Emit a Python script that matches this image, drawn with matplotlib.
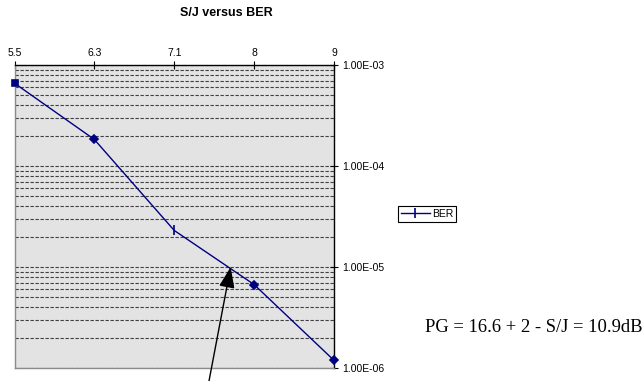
import math
import matplotlib.pyplot as plt
from matplotlib.ticker import FuncFormatter, LogLocator, NullFormatter
from matplotlib.lines import Line2D

# S/J values (category axis) and measured BER
sj_labels = ['5.5', '6.3', '7.1', '8', '9']
ber = [6.6e-4, 1.83e-4, 2.3e-5, 6.7e-6, 1.19e-6]
marker_styles = ['s', 'D', '|', 'D', 'D']

navy = '#000080'

fig = plt.figure(figsize=(6.43, 3.81), dpi=100)
ax = fig.add_axes([14.5 / 643, 1 - 368 / 381, (334 - 14.5) / 643, (368 - 65) / 381])
ax.set_facecolor('#e3e3e3')

x = list(range(len(sj_labels)))
ax.plot(x, ber, color=navy, lw=1.0, zorder=3)
for xi, yi, m in zip(x, ber, marker_styles):
    size = 7 if m == '|' else (4 if m == 's' else 4.5)
    ax.plot([xi], [yi], marker=m, color=navy, ms=size, mew=1.2, clip_on=False, zorder=4)

ax.set_yscale('log')
ax.set_ylim(1e-6, 1e-3)
ax.set_xlim(0, len(sj_labels) - 1)

ax.xaxis.tick_top()
ax.set_xticks(x)
ax.set_xticklabels(sj_labels)
ax.yaxis.tick_right()
ax.yaxis.set_major_locator(LogLocator(base=10, numticks=10))
ax.yaxis.set_minor_locator(LogLocator(base=10, subs=range(2, 10), numticks=10))
ax.yaxis.set_minor_formatter(NullFormatter())
ax.yaxis.set_major_formatter(FuncFormatter(lambda v, p: '1.00E-%02d' % -round(math.log10(v))))

ax.tick_params(axis='x', which='major', direction='inout', length=6, width=0.8, pad=2,
               labelsize=7.5, colors='black')
ax.tick_params(axis='y', which='major', direction='inout', length=6, width=0.8, pad=3,
               labelsize=7.5)
ax.tick_params(axis='y', which='minor', length=0)
for lab in ax.get_xticklabels() + ax.get_yticklabels():
    lab.set_fontfamily('Liberation Sans')

ax.grid(True, axis='y', which='both', color='#404040', ls=(0, (3, 1.5)), lw=0.8)
ax.set_axisbelow(True)

ax.spines['top'].set_color('black')
ax.spines['right'].set_color('black')
ax.spines['left'].set_color('#8c8c8c')
ax.spines['bottom'].set_color('#8c8c8c')
for s in ax.spines.values():
    s.set_linewidth(1.0)

fig.text(226 / 643, 1 - 13 / 381, 'S/J versus BER', ha='center', va='center',
         fontsize=9, fontweight='bold', family='Liberation Sans')

handle = Line2D([], [], color=navy, lw=1.0, marker='|', ms=7, mew=1.2)
leg = fig.legend([handle], ['BER'], loc='center', bbox_to_anchor=(427 / 643, 1 - 214 / 381),
                 frameon=True, fancybox=False, edgecolor='black', framealpha=1,
                 prop={'family': 'Liberation Sans', 'size': 7.5},
                 handlelength=2.8, handletextpad=0.2, borderpad=0.3, borderaxespad=0)
leg.get_frame().set_linewidth(0.8)

fig.text(533.5 / 643, 1 - 327 / 381, 'PG = 16.6 + 2 - S/J = 10.9dB', ha='center', va='center',
         fontsize=13.4, family='Liberation Serif')

# arrow pointing at the 1E-5 crossing
ax.annotate('', xy=((231 - 14.5) / 80, 1e-5), xycoords='data',
            xytext=(209 / 643, 0.0), textcoords='figure fraction',
            arrowprops=dict(arrowstyle='-|>,head_length=0.8,head_width=0.3', color='black',
                            lw=1.0, mutation_scale=16, shrinkA=0, shrinkB=0),
            annotation_clip=False)

fig.savefig('out.png', dpi=100)
